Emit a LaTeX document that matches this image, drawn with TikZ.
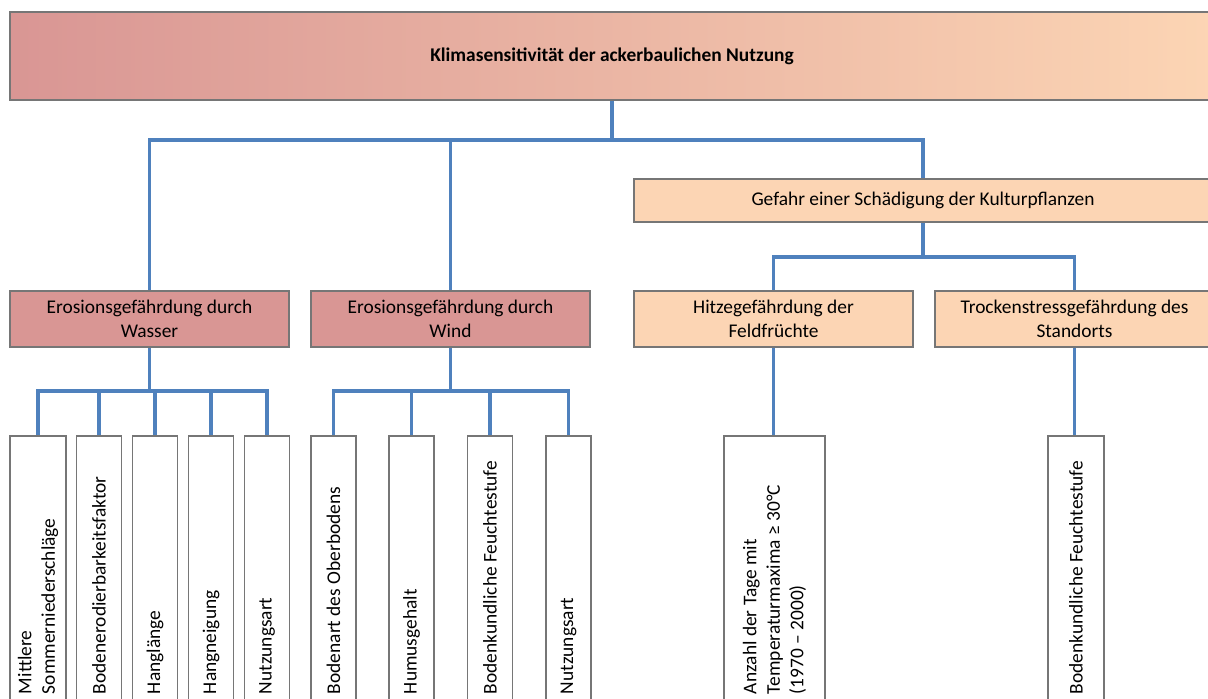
\documentclass[tikz,border=0pt]{standalone}
\usepackage{fontspec}
\setmainfont{Carlito}
\usepackage{tikz}
\usetikzlibrary{calc,positioning}
\definecolor{rosa}{RGB}{217,150,148}
\definecolor{apricot}{RGB}{252,213,180}
\definecolor{rahmen}{RGB}{118,118,118}
\definecolor{linie}{RGB}{79,129,189}

\begin{document}
\begin{tikzpicture}[x=1pt,y=-1pt,
  box/.style={draw=rahmen, line width=1.3pt, inner sep=0pt, align=center, font=\fontsize{19.4}{23.5}\selectfont},
  grob/.style={box, minimum width=279pt, minimum height=56pt},
  blatt/.style={box, rotate=90, text width=252pt, inner xsep=6pt, align=flush left, minimum height=#1},
  verb/.style={draw=linie, line width=3.2pt}]
\path[use as bounding box, clip] (0,0) rectangle (1208,699);

\node[box, left color=rosa, right color=apricot, minimum width=1204pt, minimum height=88pt, font=\bfseries\fontsize{19.4}{23.5}\selectfont] (klima) at (612,56) {Klimasensitivität der ackerbaulichen Nutzung};
\node[box, fill=apricot, minimum width=578pt, minimum height=43pt] (gefahr) at (923,200.5) {Gefahr einer Schädigung der Kulturpflanzen};

\node[grob, fill=rosa] (wasser) at (149.5,319) {Erosionsgefährdung durch\\Wasser};
\node[grob, fill=rosa] (wind) at (450.5,319) {Erosionsgefährdung durch\\Wind};
\node[grob, fill=apricot] (hitze) at (773.5,319) {Hitzegefährdung der\\Feldfrüchte};
\node[grob, fill=apricot] (trocken) at (1074.5,319) {Trockenstressgefährdung des\\Standorts};

\node[blatt=56pt] (w1) at (38,568) {Mittlere\\Sommerniederschläge};
\node[blatt=44.5pt] (w2) at (99,568) {Bodenerodierbarkeitsfaktor};
\node[blatt=44.5pt] (w3) at (155,568) {Hanglänge};
\node[blatt=44.5pt] (w4) at (211,568) {Hangneigung};
\node[blatt=44.5pt] (w5) at (267,568) {Nutzungsart};
\node[blatt=45pt] (v1) at (333.5,568) {Bodenart des Oberbodens};
\node[blatt=45pt] (v2) at (411.5,568) {Humusgehalt};
\node[blatt=45pt] (v3) at (490,568) {Bodenkundliche Feuchtestufe};
\node[blatt=45pt] (v4) at (568.5,568) {Nutzungsart};
\node[blatt=101pt] (anzahl) at (774.5,568) {Anzahl der Tage mit\\Temperaturmaxima ≥ 30°C\\(1970 – 2000)};
\node[blatt=56pt] (feuchte) at (1076,568) {Bodenkundliche Feuchtestufe};

\coordinate (oben) at (612,140);
\coordinate (mitte) at (923,257);
\coordinate (wbus) at (149,391);
\coordinate (vbus) at (450,391);

\draw[verb] (klima.south) -- (klima.south |- oben);
\draw[verb] (wasser.north) |- (gefahr.north |- oben) -- (gefahr.north);
\draw[verb] (wind.north) -- (wind.north |- oben);
\draw[verb] (gefahr.south) -- (gefahr.south |- mitte);
\draw[verb] (hitze.north) |- (trocken.north |- mitte) -- (trocken.north);

\draw[verb] (wasser.south) -- (wasser.south |- wbus);
\draw[verb] (w1.east) |- (w5.east |- wbus) -- (w5.east);
\draw[verb] (w2.east) -- (w2.east |- wbus);
\draw[verb] (w3.east) -- (w3.east |- wbus);
\draw[verb] (w4.east) -- (w4.east |- wbus);

\draw[verb] (wind.south) -- (wind.south |- vbus);
\draw[verb] (v1.east) |- (v4.east |- vbus) -- (v4.east);
\draw[verb] (v2.east) -- (v2.east |- vbus);
\draw[verb] (v3.east) -- (v3.east |- vbus);

\draw[verb] (hitze.south) -- (hitze.south |- anzahl.east);
\draw[verb] (trocken.south) -- (trocken.south |- feuchte.east);
\end{tikzpicture}
\end{document}
